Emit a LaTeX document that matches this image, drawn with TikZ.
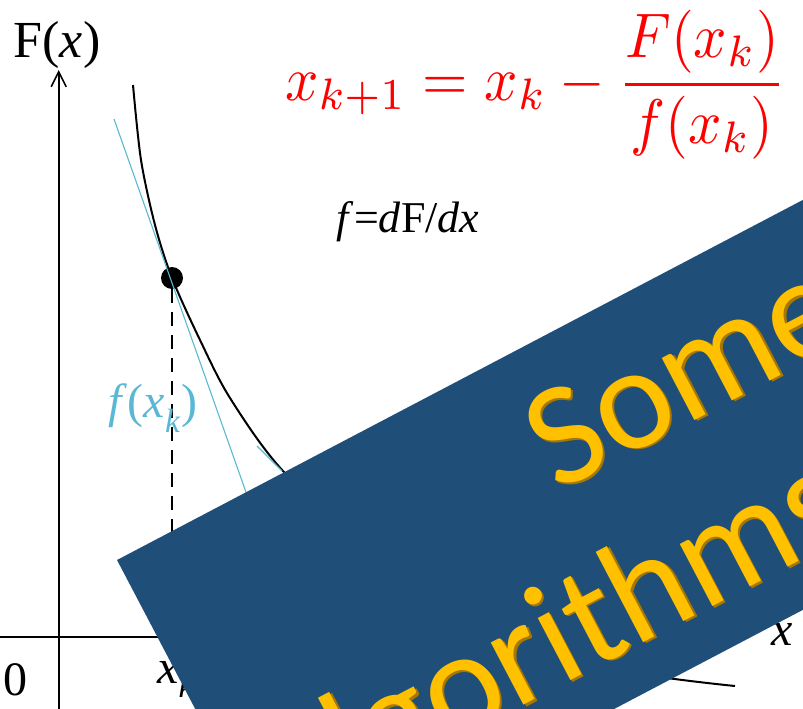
\documentclass[tikz,border=0pt]{standalone}
\usepackage{graphicx}
\usepackage{fontspec}
\setmainfont{Liberation Serif}
\newfontfamily\bannerfont{Carlito}
\usetikzlibrary{arrows.meta,positioning}
\definecolor{bannerblue}{HTML}{1F4E79}
\definecolor{gold}{HTML}{FFC000}
\definecolor{golddark}{HTML}{A87700}
\definecolor{tangentblue}{HTML}{5BB8D4}
\tikzset{%
  % plot elements
  axisline/.style={line width=1.6pt, -{Straight Barb[length=15pt,width=15pt]}},
  fcurve/.style={line width=2pt},
  tanline/.style={line width=1.1pt, tangentblue},
  guide/.style={line width=1.8pt, dash pattern=on 14pt off 9pt},
  pointdot/.style={circle, fill=black, inner sep=0pt, minimum size=22pt},
  % text styles
  lbl/.style={inner sep=0pt, font=\fontsize{48}{56}\selectfont},
  formula/.style={inner sep=0pt, text=red},
  % banner
  banner/.style={fill=bannerblue},
  bannertext/.style={inner sep=0pt, anchor=base west, transform shape, text=gold,
    font=\bannerfont\fontsize{147}{170}\selectfont},
  bannershade/.style={bannertext, text=golddark},
}

\begin{document}
\begin{tikzpicture}[x=1pt, y=-1pt]
  \useasboundingbox (0,0) rectangle (803,709);
  \clip (0,0) rectangle (803,709);

  % Axes
  \coordinate (ybot) at (58.7,709);
  \coordinate (ytip) at (58.7,70);
  \coordinate (xleft) at (0,637);
  \coordinate (xtip) at (745,637);
  \draw[axisline] (ybot) -- (ytip);
  \draw[axisline] (xleft) -- (xtip);

  % Curve F(x)
  \draw[fcurve] plot[smooth] coordinates {(133,85) (141,160) (155,225) (172,278)
    (200,340) (230,398) (283,471) (380,560) (500,630) (620,670) (735,686)};

  % Point x_k and its tangent
  \node[pointdot] (pk) at (172,278) {};
  \coordinate (xk) at (172,637);
  \draw[guide] (pk) -- (xk);
  \coordinate (ttop) at (114,119);
  \coordinate (tbot) at (247,495);
  \draw[tanline] (ttop) -- (tbot);
  \coordinate (sa) at (257,446);
  \coordinate (sb) at (282,471);
  \draw[tanline] (sa) -- (sb);

  % Labels
  \node[lbl, font=\fontsize{52}{60}\selectfont] (Flabel) at (57,45) {F(\textit{x})};
  \node[lbl] (zero) at (15,680) {0};
  \node[lbl, anchor=base west] (xklabel) at (157,683) {\textit{x}\textsubscript{\textit{k}}};
  \node[lbl] (xlabel) at (782,634) {\textit{x}};
  \node[lbl, text=tangentblue] (fxk) at (153,408) {\textit{f}(\textit{x}\textsubscript{\textit{k}})};
  \node[lbl, font=\fontsize{44}{50}\selectfont] (deriv) at (408,222) {\textit{f}=\textit{d}F/\textit{dx}};
  \node[formula, anchor=base west] (newton) at (285,100)
    {\scalebox{5.85}[6.3]{$x_{k+1} = x_k - \displaystyle\frac{F(x_k)}{f(x_k)}$}};

  % Banner
  \begin{scope}[shift={(117,560)}, rotate=27.7]
    \fill[banner] (0,0) rectangle (1200,363);
    \node[bannershade] (someshade) at (422.5,147.5) {Some};
    \node[bannertext] (some) at (421,145) {Some};
    \node[bannershade] (algshade) at (35,320.5) {algorithms};
    \node[bannertext] (alg) at (33.5,318) {algorithms};
  \end{scope}
\end{tikzpicture}
\end{document}
